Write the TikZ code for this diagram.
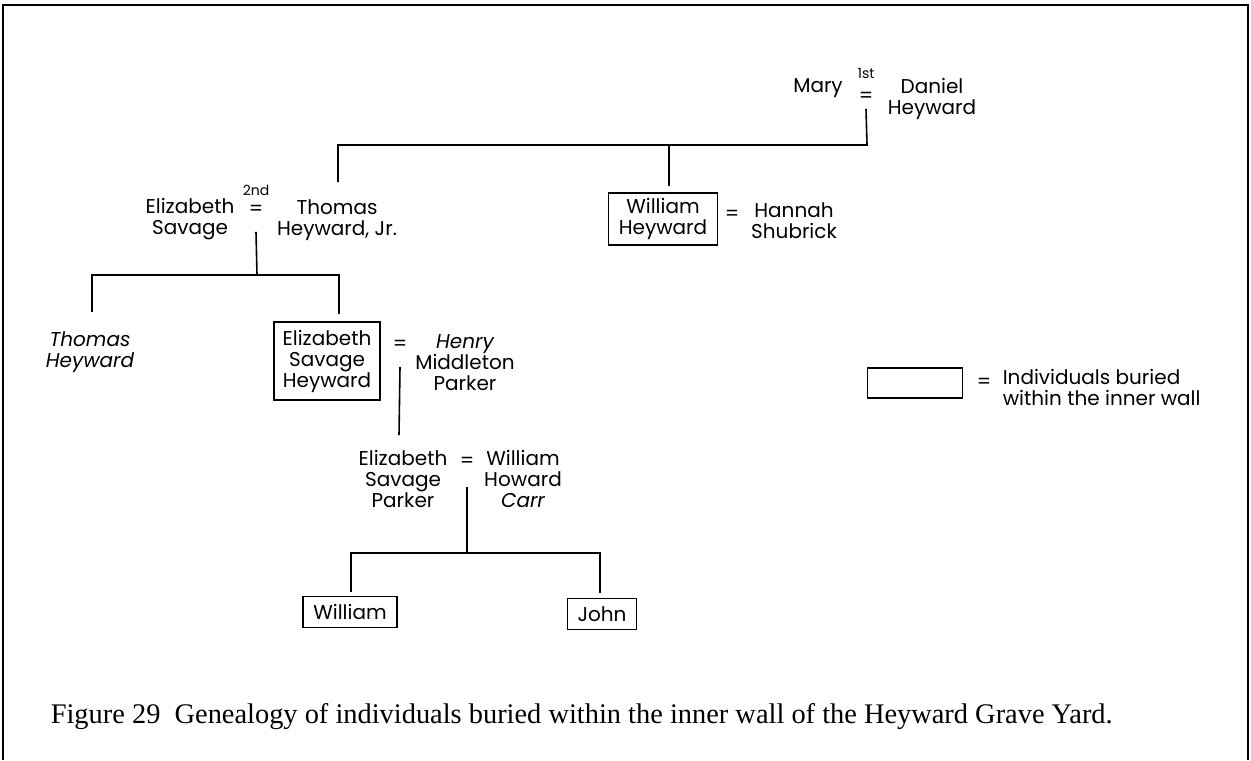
\documentclass[tikz,border=0pt]{standalone}
\usepackage{fontspec}
\setmainfont{Liberation Serif}
\newfontfamily\gothic{Poppins}
\usetikzlibrary{positioning}

\begin{document}
\begin{tikzpicture}[x=0.5pt, y=-0.5pt, line width=0.8pt,
    person/.style={font=\gothic\fontsize{10}{10.5}\selectfont, align=center, inner sep=1pt},
    personit/.style={person, font=\gothic\itshape\fontsize{10}{10.5}\selectfont},
    buried/.style={person, draw, line width=0.9pt},
    wed/.style={font=\gothic\fontsize{10}{10}\selectfont, inner sep=3pt},
    ordinal/.style={font=\gothic\fontsize{7}{7}\selectfont, inner sep=1pt}]
    \useasboundingbox (0,0) rectangle (1251,760);
    % frame
    \draw[line width=1pt] (3,760) -- (3,5) -- (1248,5) -- (1248,760);

    % Mary and Daniel Heyward
    \node[person] (mary) at (818,88) {Mary};
    \node[wed] (eqA) at (866,97) {=};
    \node[ordinal, above=2pt of eqA] (first) {1st};
    \node[person] (daniel) at (932,99) {Daniel\\Heyward};

    % second generation
    \node[person] (elizS) at (190,219) {Elizabeth\\Savage};
    \node[wed] (eqB) at (256,210) {=};
    \node[ordinal, above=0pt of eqB] (second) {2nd};
    \node[person] (thomasJr) at (337,220) {Thomas\\Heyward, Jr.};
    \node[buried, minimum width=54.5pt, minimum height=26pt] (williamH) at (663,219) {William\\Heyward};
    \node[wed] (eqW) at (732,215) {=};
    \node[person] (hannah) at (794,221) {Hannah\\Shubrick};

    % third generation
    \node[personit] (thomas) at (90,352) {Thomas\\Heyward};
    \node[buried, minimum width=53pt, minimum height=39pt] (elizSH) at (327,361) {Elizabeth\\Savage\\Heyward};
    \node[wed] (eqC) at (400,345) {=};
    \node[person] (henry) at (465,363) {{\itshape Henry}\\Middleton\\Parker};

    % fourth generation
    \node[person] (elizSP) at (403,479) {Elizabeth\\Savage\\Parker};
    \node[wed] (eqD) at (467,462) {=};
    \node[person] (wmCarr) at (523,479) {William\\Howard\\{\itshape Carr}};
    \node[buried, minimum width=47pt, minimum height=15.5pt] (william) at (350,612) {William};
    \node[buried, minimum width=34.5pt, minimum height=15.5pt] (john) at (602,614) {John};

    % key
    \node[buried, minimum width=47.5pt, minimum height=15pt] (keybox) at (915,383) {};
    \node[wed] (eqKey) at (984,383) {=};
    \node[person, align=left, anchor=west] (keytext) at (1000,387) {Individuals buried\\within the inner wall};

    % descent lines
    \coordinate (barA) at (867,145);
    \coordinate (toTJ) at (338,182);
    \coordinate (toWH) at (669,186);
    \draw (eqA.south) -- (barA) -| (toTJ);
    \draw (toWH |- barA) -- (toWH);

    \coordinate[below=5pt of eqB] (stemB);
    \coordinate (barB) at (257,275);
    \coordinate (toT) at (92,312);
    \coordinate (toESH) at (339,314);
    \draw (stemB) -- (barB);
    \draw (toT) |- (barB) -| (toESH);

    \coordinate[below=5pt of eqC] (stemC);
    \coordinate (toESP) at (399,435);
    \draw (stemC) -- (toESP);

    \coordinate[below=6.5pt of eqD] (stemD);
    \coordinate (barD) at (467,553);
    \coordinate (toW) at (351,592);
    \coordinate (toJ) at (600,593);
    \draw (stemD) -- (barD);
    \draw (toW) |- (barD) -| (toJ);

    % caption
    \node[anchor=base west, inner sep=0pt, font=\fontsize{14.2}{14.2}\selectfont] (caption) at (50,723)
        {Figure 29\ \ Genealogy of individuals buried within the inner wall of the Heyward Grave Yard.};
\end{tikzpicture}
\end{document}
